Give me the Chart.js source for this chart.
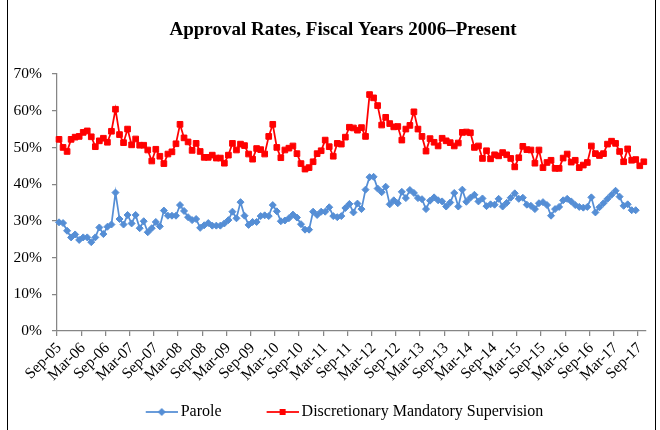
<!DOCTYPE html>
<html>
<head>
<meta charset="utf-8">
<script src="https://cdn.jsdelivr.net/npm/chart.js@4.4.1/dist/chart.umd.min.js"></script>
<style>
  html, body { margin: 0; padding: 0; background: #fff; }
  canvas { display: block; }
</style>
</head>
<body>
<canvas id="approvalChart" width="660" height="430"></canvas>
<script>
// labels shown on the x axis, every 6 months
const tickLabels = [
  'Sep-05', 'Mar-06', 'Sep-06', 'Mar-07', 'Sep-07', 'Mar-08', 'Sep-08', 'Mar-09',
  'Sep-09', 'Mar-10', 'Sep-10', 'Mar-11', 'Sep-11', 'Mar-12', 'Sep-12', 'Mar-13',
  'Sep-13', 'Mar-14', 'Sep-14', 'Mar-15', 'Sep-15', 'Mar-16', 'Sep-16', 'Mar-17', 'Sep-17',
];

// monthly categories, Sep-05 .. Oct-17
const monthNames = ['Jan', 'Feb', 'Mar', 'Apr', 'May', 'Jun', 'Jul', 'Aug', 'Sep', 'Oct', 'Nov', 'Dec'];
const months = [];
for (let y = 5, m = 8; months.length < 146; m++) {
  if (m === 12) { m = 0; y++; }
  months.push(monthNames[m] + '-' + String(y).padStart(2, '0'));
}

const parole = [
  29.6, 29.4, 27.3, 25.5, 26.3, 24.8, 25.5, 25.5, 24.2, 25.5, 28.2, 26.4,
  28.4, 29.0, 37.7, 30.5, 29.0, 31.6, 29.3, 31.6, 28.0, 29.9, 26.9, 28.0,
  29.7, 28.5, 32.8, 31.4, 31.4, 31.4, 34.3, 32.7, 31.0, 30.2, 30.5, 28.1,
  28.8, 29.4, 28.7, 28.7, 28.7, 29.3, 30.2, 32.5, 30.7, 35.1, 31.4, 28.9,
  29.7, 29.7, 31.3, 31.5, 31.3, 34.3, 32.6, 29.9, 30.1, 30.7, 31.7, 30.9,
  29.1, 27.6, 27.6, 32.5, 31.6, 32.5, 32.5, 33.7, 31.3, 31.0, 31.3, 33.5,
  34.6, 32.3, 34.7, 33.2, 38.5, 41.9, 42.0, 38.8, 37.8, 39.3, 34.5, 35.6,
  34.8, 37.9, 36.2, 38.4, 37.6, 36.2, 35.9, 33.2, 35.5, 36.4, 35.6, 35.3,
  33.9, 35.0, 37.6, 33.9, 38.5, 35.2, 36.3, 37.1, 35.3, 36.1, 34.0, 34.5,
  34.4, 36.0, 33.9, 34.9, 36.3, 37.5, 36.0, 36.3, 34.4, 34.1, 33.2, 34.8,
  35.1, 34.3, 31.4, 33.2, 33.8, 35.6, 36.0, 35.3, 34.3, 33.8, 33.6, 33.8,
  36.4, 32.3, 33.7, 34.8, 36.0, 37.1, 38.2, 36.6, 34.1, 34.5, 32.9, 32.9,
  null, null,
];

const dms = [
  52.2, 50.0, 48.9, 52.2, 52.8, 53.0, 54.1, 54.5, 52.9, 50.2, 51.8, 52.5,
  51.4, 54.4, 60.4, 53.5, 51.3, 55.0, 50.7, 52.3, 50.6, 50.6, 49.3, 46.3,
  49.5, 47.6, 45.6, 48.2, 48.8, 51.0, 56.3, 52.6, 51.5, 49.2, 51.1, 48.9,
  47.3, 47.3, 47.9, 47.1, 47.1, 45.7, 47.9, 51.1, 49.3, 50.9, 50.5, 48.2,
  46.8, 49.7, 49.4, 48.2, 53.0, 56.3, 50.0, 47.2, 49.3, 49.8, 50.4, 48.3,
  45.6, 44.1, 44.5, 46.1, 48.3, 49.1, 52.0, 50.2, 47.6, 51.1, 50.9, 52.8,
  55.5, 55.3, 54.7, 55.4, 53.0, 64.4, 63.5, 61.4, 56.1, 58.2, 56.5, 55.6,
  55.7, 52.0, 55.0, 56.0, 59.7, 55.0, 53.0, 49.0, 52.4, 51.4, 50.4, 52.5,
  51.8, 51.3, 50.4, 51.2, 54.1, 54.2, 54.0, 50.0, 50.4, 47.0, 49.1, 46.9,
  48.0, 47.7, 48.6, 48.0, 47.0, 44.7, 47.2, 50.3, 49.4, 49.3, 45.7, 49.3,
  44.5, 45.9, 46.5, 44.3, 44.3, 47.1, 48.2, 46.0, 46.5, 44.5, 45.2, 45.9,
  50.4, 48.3, 47.8, 48.3, 50.9, 51.7, 51.1, 48.9, 46.1, 49.6, 46.5, 46.7,
  45.0, 46.1,
];

const chartTitle = 'Approval Rates, Fiscal Years 2006\u2013Present';

const blue = '#558ED5';
const red = '#FF0000';
const axisGray = '#868686';
const serif = "'Liberation Serif', 'Times New Roman', serif";

// legend swatch: line with marker, like Excel
function swatch(color, shape) {
  const c = document.createElement('canvas');
  c.width = 79;
  c.height = 12;
  const g = c.getContext('2d');
  g.strokeStyle = color;
  g.fillStyle = color;
  g.lineWidth = 1.75;
  g.beginPath();
  g.moveTo(47, 6);
  g.lineTo(79, 6);
  g.stroke();
  g.beginPath();
  if (shape === 'diamond') {
    g.moveTo(63, 2); g.lineTo(67, 6); g.lineTo(63, 10); g.lineTo(59, 6);
  } else {
    g.rect(60, 3, 6, 6);
  }
  g.closePath();
  g.fill();
  return c;
}

// title drawn by hand so it can sit right of the plot centre, and the frame lines
const decor = {
  id: 'decor',
  afterDraw(chart) {
    const ctx = chart.ctx;
    ctx.save();
    ctx.fillStyle = '#000';
    ctx.font = 'bold 19px ' + serif;
    ctx.textAlign = 'center';
    ctx.textBaseline = 'middle';
    ctx.fillText(chartTitle, 343, 30);
    ctx.strokeStyle = '#000';
    ctx.lineWidth = 1;
    ctx.beginPath();
    ctx.moveTo(7.5, 0);
    ctx.lineTo(7.5, 430);
    ctx.moveTo(655.5, 0);
    ctx.lineTo(655.5, 430);
    ctx.stroke();
    ctx.restore();
  },
};

new Chart(document.getElementById('approvalChart'), {
  type: 'line',
  data: {
    labels: months,
    datasets: [
      {
        label: 'Parole',
        data: parole,
        borderColor: blue,
        backgroundColor: blue,
        borderWidth: 1.75,
        pointStyle: 'rectRot',
        pointRadius: 3.5,
        pointBorderWidth: 1,
        tension: 0,
        fill: false,
      },
      {
        label: 'Discretionary Mandatory Supervision',
        data: dms,
        borderColor: red,
        backgroundColor: red,
        borderWidth: 1.75,
        pointStyle: 'rect',
        pointRadius: 4,
        pointBorderWidth: 1,
        tension: 0,
        fill: false,
      },
    ],
  },
  options: {
    responsive: false,
    animation: false,
    layout: { padding: { left: 0, right: 13, top: 74, bottom: 0 } },
    scales: {
      x: {
        type: 'category',
        offset: true,
        afterFit: (scale) => { scale.height = 70; },
        border: { display: true, color: axisGray, width: 1.25 },
        grid: {
          offset: true,
          drawOnChartArea: false,
          drawTicks: true,
          tickLength: 5,
          lineWidth: 1.25,
          color: (ctx) => (ctx.index % 6 === 0 ? axisGray : 'rgba(0,0,0,0)'),
        },
        ticks: {
          autoSkip: false,
          minRotation: 45,
          maxRotation: 45,
          padding: 3,
          color: '#000',
          font: { family: serif, size: 15.5 },
          callback: (val, idx) => (idx % 6 === 0 ? tickLabels[idx / 6] : ''),
        },
      },
      y: {
        min: 0,
        max: 70,
        afterFit: (scale) => { scale.width = 57; },
        border: { display: true, color: axisGray, width: 1.25 },
        grid: {
          drawOnChartArea: false,
          drawTicks: true,
          tickLength: 5,
          lineWidth: 1.25,
          color: axisGray,
        },
        ticks: {
          stepSize: 10,
          padding: 10,
          color: '#000',
          font: { family: serif, size: 15.5 },
          callback: (v) => v + '%',
        },
      },
    },
    plugins: {
      title: { display: false },
      legend: {
        position: 'bottom',
        labels: {
          usePointStyle: true,
          pointStyleWidth: 69,
          padding: 3,
          color: '#000',
          font: { family: serif, size: 16 },
          generateLabels: (chart) => chart.data.datasets.map((ds, i) => ({
            text: ds.label,
            datasetIndex: i,
            pointStyle: swatch(ds.borderColor, i === 0 ? 'diamond' : 'square'),
            fillStyle: ds.borderColor,
            strokeStyle: ds.borderColor,
            lineWidth: 0,
            hidden: false,
          })),
        },
      },
      tooltip: { enabled: false },
    },
  },
  plugins: [decor],
});
</script>
</body>
</html>
